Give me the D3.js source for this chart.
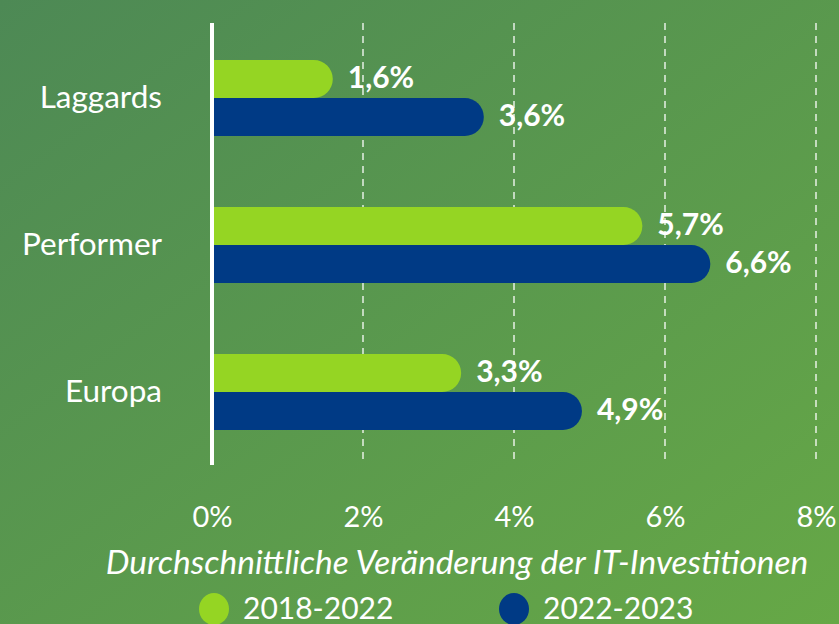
<!DOCTYPE html>
<html><head><meta charset="utf-8">
<script src="https://cdn.jsdelivr.net/npm/d3@7"></script>
<style>html,body{margin:0;padding:0;background:#4f8c55;}svg{display:block;}</style>
</head><body>
<svg id="chart" width="839" height="624"></svg>
<script>
const categories = ["Laggards", "Performer", "Europa"];
const series = ["2018-2022", "2022-2023"];
const values2018 = [1.6, 5.7, 3.3];
const values2022 = [3.6, 6.6, 4.9];
const valueLabels2018 = ["1,6%", "5,7%", "3,3%"];
const valueLabels2022 = ["3,6%", "6,6%", "4,9%"];
const ticks = [0, 2, 4, 6, 8];
const tickLabels = ["0%", "2%", "4%", "6%", "8%"];
const axisTitle = "Durchschnittliche Veränderung der IT-Investitionen";
const colors = ["#95d523", "#003a85"];

const W = 839, H = 624;
const svg = d3.select("#chart");
const FONT = "Lato, 'Open Sans', sans-serif";

const defs = svg.append("defs");
const grad = defs.append("linearGradient").attr("id","bg").attr("x1","0").attr("y1","0").attr("x2","1").attr("y2","1");
grad.append("stop").attr("offset","0").attr("stop-color","#4d8955");
grad.append("stop").attr("offset","1").attr("stop-color","#66a846");
svg.append("rect").attr("width",W).attr("height",H).attr("fill","url(#bg)");

const x = d3.scaleLinear().domain([0, 8]).range([212, 816]);
const y0 = d3.scaleBand().domain(categories).range([23.5, 464.5]).padding(0);
const bw = y0.bandwidth();
const y1 = d3.scaleBand().domain(series).range([bw/2 - 37, bw/2 + 39]).padding(0);

// gridlines
svg.append("g").selectAll("line").data(ticks.filter(t => t > 0)).join("line")
  .attr("x1", d => x(d)).attr("x2", d => x(d))
  .attr("y1", 23).attr("y2", 465)
  .attr("stroke", "rgba(255,255,255,0.8)").attr("stroke-width", 1.6)
  .attr("stroke-dasharray", "7,6");

const data = [];
categories.forEach((c, i) => {
  data.push({cat: c, s: series[0], v: values2018[i], label: valueLabels2018[i], color: colors[0]});
  data.push({cat: c, s: series[1], v: values2022[i], label: valueLabels2022[i], color: colors[1]});
});

function barPath(x0, x1, yT, h) {
  const r = h / 2;
  return `M${x0},${yT}H${x1 - r}A${r},${r} 0 0 1 ${x1},${yT + r}A${r},${r} 0 0 1 ${x1 - r},${yT + h}H${x0}Z`;
}

const bars = svg.append("g");
bars.selectAll("path").data(data).join("path")
  .attr("d", d => barPath(x(0), x(d.v), y0(d.cat) + y1(d.s), y1.bandwidth()))
  .attr("fill", d => d.color);

bars.selectAll("text").data(data).join("text")
  .attr("x", d => x(d.v) + 15)
  .attr("y", d => y0(d.cat) + y1(d.s) + y1.bandwidth()/2 + 1)
  .attr("dominant-baseline", "middle")
  .attr("fill", "#fff").attr("font-family", FONT).attr("font-weight", "bold")
  .attr("font-size", 30)
  .text(d => d.label);

// zero axis line
svg.append("line").attr("x1", x(0)).attr("x2", x(0)).attr("y1", 23).attr("y2", 465)
  .attr("stroke", "#fff").attr("stroke-width", 4);

// category labels
svg.append("g").selectAll("text").data(categories).join("text")
  .attr("x", 162).attr("y", d => y0(d) + bw/2 + 3)
  .attr("text-anchor", "end").attr("dominant-baseline", "middle")
  .attr("fill", "#fff").attr("font-family", FONT).attr("font-size", 31.5)
  .text(d => d);

// x axis tick labels
const xAxis = d3.axisBottom(x).tickValues(ticks).tickFormat((d, i) => tickLabels[i]).tickSize(0).tickPadding(0);
const gx = svg.append("g").attr("transform", "translate(0,506)").call(xAxis);
gx.select(".domain").remove();
gx.selectAll("text").attr("fill", "#fff").attr("font-family", FONT).attr("font-size", 29).attr("dy", "0.72em");

// axis title
svg.append("text").attr("x", 457).attr("y", 574).attr("text-anchor", "middle")
  .attr("fill", "#fff").attr("font-family", FONT).attr("font-style", "italic").attr("font-size", 33.5)
  .text(axisTitle);

// legend
const legendX = [214, 514];
const lg = svg.append("g").selectAll("g").data(series).join("g")
  .attr("transform", (d, i) => `translate(${legendX[i]},609)`);
lg.append("ellipse").attr("rx", 15).attr("ry", 16).attr("fill", (d, i) => colors[i]);
lg.append("text").attr("x", 29).attr("y", 10).attr("fill", "#fff")
  .attr("font-family", FONT).attr("font-size", 30).text(d => d);
</script>
</body></html>
